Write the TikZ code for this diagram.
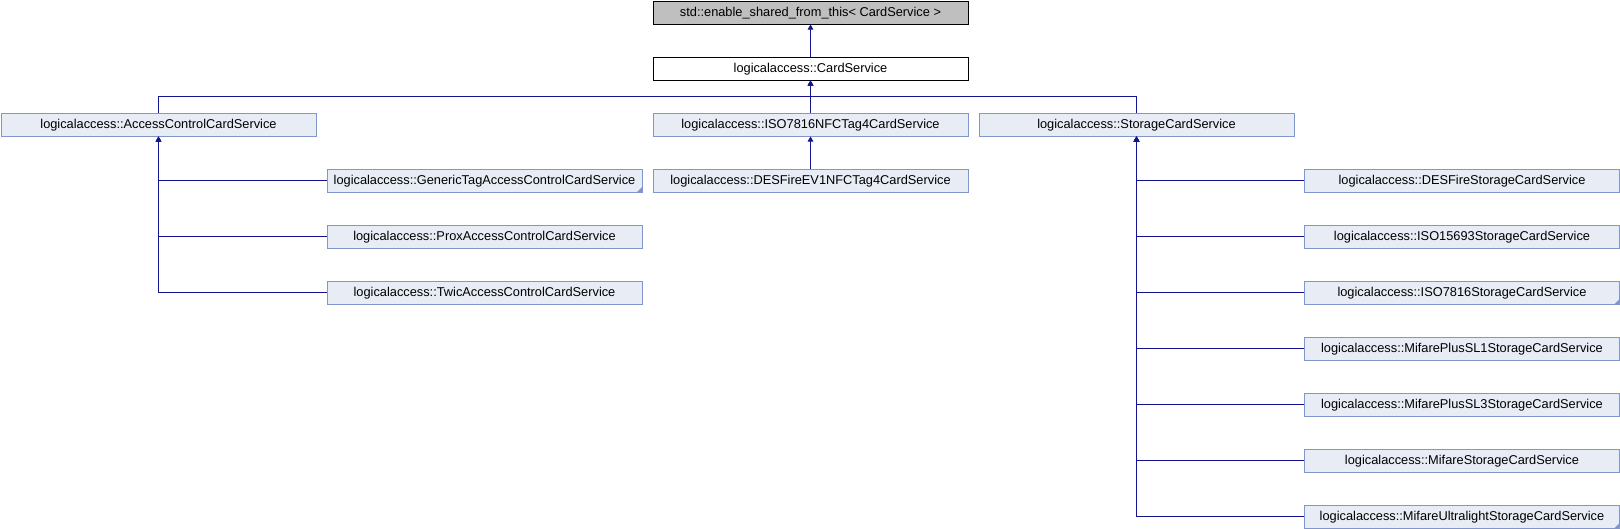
\documentclass[tikz,border=0pt]{standalone}
\usepackage{fontspec}
\setmainfont{Liberation Sans}
\usetikzlibrary{arrows.meta,calc}
\definecolor{edgeblue}{RGB}{20,20,140}
\definecolor{boxborder}{RGB}{128,150,204}
\definecolor{boxfill}{RGB}{232,236,245}
\definecolor{topgrey}{RGB}{191,191,191}
\tikzset{
  cls/.style={rectangle, draw=boxborder, fill=boxfill, line width=1pt, minimum width=315pt, minimum height=22.5pt, inner sep=0pt, anchor=north west, font=\fontsize{12.8}{15}\selectfont},
  rootcls/.style={cls, draw=black, fill=topgrey},
  curcls/.style={cls, draw=black, fill=white},
  inh/.style={draw=edgeblue, line width=1pt, -{Triangle[length=5pt,width=5.5pt,fill=edgeblue]}},
  trunc/.style={fill=boxborder, draw=none}
}
\begin{document}
\begin{tikzpicture}[x=1pt,y=-1pt]
\useasboundingbox (0,0) rectangle (1620,528);
% nodes
\node[rootcls] (top) at (652.5,1) {std::enable\_shared\_from\_this< CardService >};
\node[curcls] (cs) at (652.5,57) {logicalaccess::CardService};
\node[cls] (acc) at (0.5,113) {logicalaccess::AccessControlCardService};
\node[cls] (iso) at (652.5,113) {logicalaccess::ISO7816NFCTag4CardService};
\node[cls] (sto) at (978.5,113) {logicalaccess::StorageCardService};
\node[cls] (gen) at (326.5,169) {logicalaccess::GenericTagAccessControlCardService};
\node[cls] (prox) at (326.5,225) {logicalaccess::ProxAccessControlCardService};
\node[cls] (twic) at (326.5,281) {logicalaccess::TwicAccessControlCardService};
\node[cls] (dev1) at (652.5,169) {logicalaccess::DESFireEV1NFCTag4CardService};
\node[cls] (dsto) at (1304,169) {logicalaccess::DESFireStorageCardService};
\node[cls] (i15) at (1304,225) {logicalaccess::ISO15693StorageCardService};
\node[cls] (i78) at (1304,281) {logicalaccess::ISO7816StorageCardService};
\node[cls] (mp1) at (1304,337) {logicalaccess::MifarePlusSL1StorageCardService};
\node[cls] (mp3) at (1304,393) {logicalaccess::MifarePlusSL3StorageCardService};
\node[cls] (mst) at (1304,449) {logicalaccess::MifareStorageCardService};
\node[cls] (mul) at (1304,505) {logicalaccess::MifareUltralightStorageCardService};
% truncation markers
\foreach \n in {gen,i78,mul}{
  \fill[trunc] ($(\n.south east)+(-0.5,-0.5)$) -- ($(\n.south east)+(-5.5,-0.5)$) -- ($(\n.south east)+(-0.5,-5.5)$) -- cycle;
}
% connectors
\coordinate (bus) at ($(cs.south)!0.5!(iso.north)$);
\draw[inh] (cs.north) -- (top.south);
\draw[inh] (iso.north) -- (cs.south);
\draw[inh] (acc.north) |- (bus) -- (cs.south);
\draw[inh] (sto.north) |- (bus) -- (cs.south);
\draw[inh] (dev1.north) -- (iso.south);
\foreach \n in {gen,prox,twic}{
  \draw[inh] (\n.west) -| (acc.south);
}
\foreach \n in {dsto,i15,i78,mp1,mp3,mst,mul}{
  \draw[inh] (\n.west) -| (sto.south);
}
\end{tikzpicture}
\end{document}
